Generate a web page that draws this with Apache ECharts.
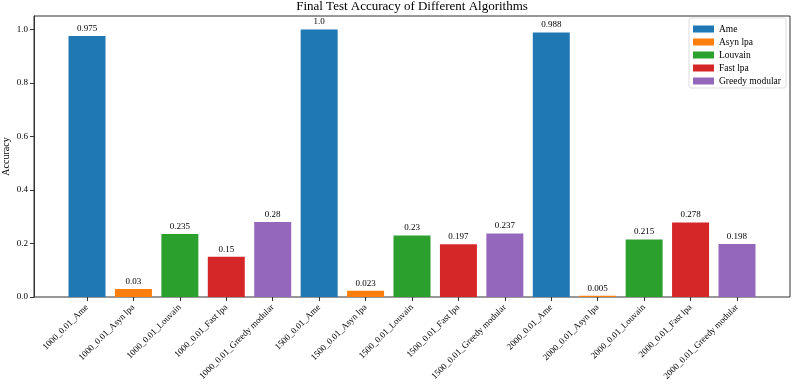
<!DOCTYPE html>
<html>
<head>
<meta charset="utf-8">
<script src="https://cdn.jsdelivr.net/npm/echarts@6/dist/echarts.min.js"></script>
<style>
  html, body { margin: 0; padding: 0; background: #fff; }
  #chart { width: 792px; height: 384px; }
</style>
</head>
<body>
<div id="chart"></div>
<script>
// data
const groups = ['1000', '1500', '2000'];
const algorithms = ['Ame', 'Asyn lpa', 'Louvain', 'Fast lpa', 'Greedy modular'];
const ameValues = [0.975, 1.0, 0.988];
const asynLpaValues = [0.03, 0.023, 0.005];
const louvainValues = [0.235, 0.23, 0.215];
const fastLpaValues = [0.15, 0.197, 0.278];
const greedyValues = [0.28, 0.237, 0.198];
const yTicks = [0, 0.2, 0.4, 0.6, 0.8, 1.0];

const colors = ['#1f77b4', '#ff7f0e', '#2ca02c', '#d62728', '#9467bd'];
const valuesByAlgo = [ameValues, asynLpaValues, louvainValues, fastLpaValues, greedyValues];

// 类别标签: 1000_0.01_Ame ...
const categories = [];
groups.forEach(g => algorithms.forEach(a => categories.push(g + '_0.01_' + a)));

const font = 'Liberation Serif';
const yMax = 1.05;

// 每个算法一个系列, 其他位置留空
const series = algorithms.map((name, ai) => ({
  name: name,
  type: 'bar',
  xAxisIndex: 1,
  yAxisIndex: 1,
  barWidth: 37,
  barGap: '-100%',
  itemStyle: { color: colors[ai] },
  label: {
    show: true,
    position: 'top',
    distance: 3,
    color: '#000',
    fontFamily: font,
    fontSize: 9,
    formatter: p => {
      const v = p.value;
      return Number.isInteger(v) ? v.toFixed(1) : String(v);
    }
  },
  data: categories.map((c, ci) => {
    const gi = Math.floor(ci / algorithms.length);
    return ci % algorithms.length === ai ? valuesByAlgo[ai][gi] : '-';
  })
}));

const chart = echarts.init(document.getElementById('chart'));
chart.setOption({
  animation: false,
  textStyle: { fontFamily: font },
  title: {
    text: 'Final Test Accuracy of Different Algorithms',
    left: 412,
    textAlign: 'center',
    top: 0,
    padding: 0,
    textStyle: { fontFamily: font, fontSize: 13, fontWeight: 'normal', color: '#000' }
  },
  legend: {
    orient: 'vertical',
    right: 6,
    top: 18,
    icon: 'rect',
    itemWidth: 21,
    itemHeight: 7,
    itemGap: 3,
    padding: [6, 5, 2, 4],
    borderColor: '#ddd',
    borderWidth: 1,
    borderRadius: 2,
    data: algorithms,
    textStyle: { fontFamily: font, fontSize: 9.5, color: '#000' }
  },
  grid: [
    // 外框 + y 轴
    { left: 34, right: 2, top: 16, bottom: 87, containLabel: false, outerBoundsMode: 'none',
      show: true, borderColor: '#333', borderWidth: 1 },
    // 柱子所在区域 (两侧留边距)
    { left: 63.8, right: 31.8, top: 16, bottom: 87, containLabel: false, outerBoundsMode: 'none' }
  ],
  xAxis: [
    { type: 'value', gridIndex: 0, min: 0, max: 1, show: false },
    {
      type: 'category',
      gridIndex: 1,
      data: categories,
      axisLine: { show: false },
      axisTick: { show: true, inside: false, alignWithLabel: true, length: 4, lineStyle: { color: '#333' } },
      axisLabel: {
        interval: 0,
        rotate: 45,
        fontFamily: font,
        fontSize: 9,
        color: '#000',
        margin: 9
      }
    }
  ],
  yAxis: [
    {
      type: 'value',
      gridIndex: 0,
      min: 0,
      max: yMax,
      name: 'Accuracy',
      nameLocation: 'middle',
      nameRotate: 90,
      nameGap: 23,
      nameMoveOverlap: false,
      nameTextStyle: { fontFamily: font, fontSize: 10, color: '#000' },
      splitLine: { show: false },
      axisLine: { show: true, lineStyle: { color: '#333' } },
      axisTick: { show: true, length: 4, customValues: yTicks, lineStyle: { color: '#333' } },
      axisLabel: {
        customValues: yTicks,
        fontFamily: font,
        fontSize: 9,
        color: '#000',
        margin: 6,
        formatter: v => v.toFixed(1)
      }
    },
    { type: 'value', gridIndex: 1, min: 0, max: yMax, show: false }
  ],
  series: series
});
</script>
</body>
</html>
